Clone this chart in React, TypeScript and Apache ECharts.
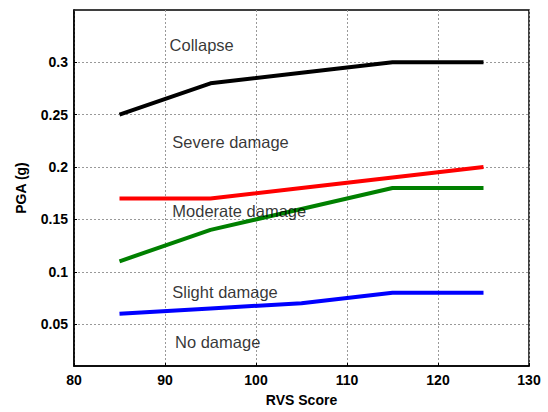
import React, { useEffect, useRef } from "react";
import * as echarts from "echarts";

const xTicks = [80, 90, 100, 110, 120, 130];
const yTicks = [0.05, 0.1, 0.15, 0.2, 0.25, 0.3];
const collapse = [[85, 0.25], [95, 0.28], [105, 0.29], [115, 0.3], [125, 0.3]];
const severe = [[85, 0.17], [95, 0.17], [105, 0.18], [115, 0.19], [125, 0.2]];
const moderate = [[85, 0.11], [95, 0.14], [105, 0.16], [115, 0.18], [125, 0.18]];
const slight = [[85, 0.06], [95, 0.065], [105, 0.07], [115, 0.08], [125, 0.08]];
const zoneLabels = [
  { text: "Collapse", x: 90.5, y: 0.317 },
  { text: "Severe damage", x: 90.8, y: 0.224 },
  { text: "Moderate damage", x: 90.8, y: 0.158 },
  { text: "Slight damage", x: 90.8, y: 0.0805 },
  { text: "No damage", x: 91.1, y: 0.0325 },
];

const FONT = "Liberation Sans, Arial, sans-serif";

export default function App() {
  const ref = useRef<HTMLDivElement>(null);
  useEffect(() => {
    const chart = echarts.init(ref.current!, null, { renderer: "svg" });
    const lineSeries = (data: number[][], color: string) => ({
      type: "line",
      data,
      showSymbol: false,
      symbol: "none",
      lineStyle: { color, width: 4 },
      itemStyle: { color },
      z: 3,
    });
    chart.setOption({
      animation: false,
      backgroundColor: "#fff",
      grid: {
        left: 74,
        right: 19,
        top: 10,
        bottom: 44,
        show: true,
        borderColor: "#000",
        borderWidth: 1.5,
        backgroundColor: "transparent",
      },
      xAxis: {
        type: "value",
        min: 80,
        max: 130,
        interval: 10,
        name: "RVS Score",
        nameLocation: "middle",
        nameGap: 27,
        nameTextStyle: { fontFamily: FONT, fontWeight: "bold", fontSize: 14, color: "#000" },
        axisLine: { show: true, onZero: false, lineStyle: { color: "#000", width: 1.5 } },
        axisTick: { show: true, inside: true, length: 3, lineStyle: { color: "#000" } },
        axisLabel: { fontFamily: FONT, fontWeight: "bold", fontSize: 14, color: "#000", margin: 7, customValues: xTicks },
        splitLine: { show: true, lineStyle: { color: "#999", type: [2, 2], width: 1 } },
      },
      yAxis: {
        type: "value",
        min: 0.01,
        max: 0.35,
        name: "PGA (g)",
        nameLocation: "middle",
        nameGap: 46,
        nameRotate: 90,
        nameTextStyle: { fontFamily: FONT, fontWeight: "bold", fontSize: 14, color: "#000" },
        axisLine: { show: true, onZero: false, lineStyle: { color: "#000", width: 1.5 } },
        axisTick: { show: true, inside: true, length: 3, lineStyle: { color: "#000" }, customValues: yTicks },
        axisLabel: { fontFamily: FONT, fontWeight: "bold", fontSize: 14, color: "#000", margin: 6, customValues: yTicks },
        splitLine: { show: true, lineStyle: { color: "#999", type: [2, 2], width: 1 } },
      },
      series: [
        lineSeries(collapse, "#000000"),
        lineSeries(severe, "#ff0000"),
        lineSeries(moderate, "#008000"),
        lineSeries(slight, "#0000ff"),
        {
          type: "scatter",
          data: zoneLabels.map((l) => ({ value: [l.x, l.y], name: l.text })),
          symbolSize: 0,
          z: 5,
          label: {
            show: true,
            position: "right",
            distance: 0,
            formatter: (p: any) => p.name,
            fontFamily: FONT,
            fontSize: 16.5,
            color: "#000",
          },
        },
      ],
    });
    return () => chart.dispose();
  }, []);
  return <div ref={ref} style={{ width: 548, height: 412, position: "absolute", left: 0, top: 0 }} />;
}
